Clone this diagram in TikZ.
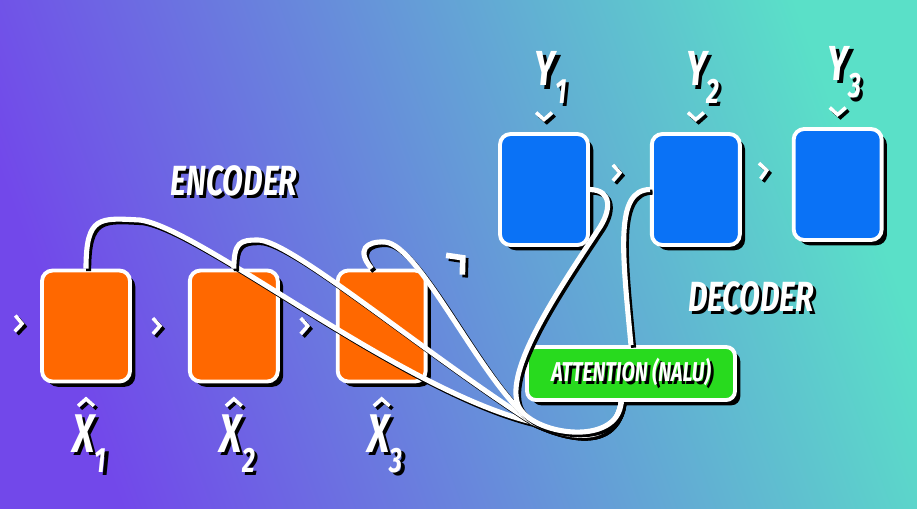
\documentclass[tikz,border=0pt]{standalone}
\usepackage{fontspec}
\newfontfamily\labelfont{Fira Sans}[FakeStretch=0.72]
\usetikzlibrary{positioning, shadows, decorations.markings, calc}

\definecolor{bgleft}{RGB}{114,72,234}
\definecolor{bgmid}{RGB}{84,136,214}
\definecolor{bgright}{RGB}{90,224,200}
\definecolor{encorange}{RGB}{255,104,0}
\definecolor{decblue}{RGB}{10,114,246}
\definecolor{attgreen}{RGB}{40,218,30}

% white text with a black drop shadow
\newcommand\shtext[1]{\leavevmode\rlap{\kern1.8pt\raisebox{-1.8pt}{\color{black}#1}}#1}
\newcommand\idx[1]{\raisebox{-0.36em}{\fontsize{20}{20}\selectfont#1}}
% arrow head with no shaft, shadow kept down-right
\newcommand\chevron[1]{%
  \pgfgettransformentries{\ca}{\cb}{\cc}{\cd}{\ce}{\cf}%
  \pgfmathsetmacro\chx{1.6*((\ca)-(\cb))}%
  \pgfmathsetmacro\chy{1.6*((\cc)-(\cd))}%
  \draw[black, line width=#1*2pt, shift={(\chx pt,\chy pt)}, scale=#1]
    (-4pt,4.5pt) -- (0,0) -- (-4pt,-4.5pt);
  \draw[white, line width=#1*2pt, scale=#1] (-4pt,4.5pt) -- (0,0) -- (-4pt,-4.5pt);}

\begin{document}
\begin{tikzpicture}[
    x=0.02cm, y=-0.02cm,
    node distance=1.12cm,
    % Boxes
    cell/.style={
        rectangle,
        draw=white,
        line width=2.2pt,
        rounded corners=6pt,
        minimum width=1.76cm,
        minimum height=2.22cm,
        drop shadow={shadow xshift=3pt, shadow yshift=-3pt, fill=black, opacity=1}
    },
    enc/.style={cell, fill=encorange},
    dec/.style={cell, fill=decblue},
    attbox/.style={
        cell,
        fill=attgreen,
        rounded corners=5pt,
        minimum width=4.16cm,
        minimum height=1.06cm,
        text=white,
        font=\labelfont\bfseries\itshape\fontsize{15.5}{15.5}\selectfont
    },
    title/.style={text=white, inner sep=0, font=\labelfont\bfseries\itshape\fontsize{24}{24}\selectfont},
    xlab/.style={text=white, inner sep=0, font=\labelfont\bfseries\itshape\fontsize{31}{31}\selectfont},
    ylab/.style={xlab, font=\labelfont\bfseries\itshape\fontsize{28}{28}\selectfont},
    % Links
    wire/.style={
        draw=white,
        line width=2.9pt,
        preaction={draw=black, line width=2.9pt, transform canvas={xshift=1.5pt, yshift=-1.5pt}}
    },
    flow/.style={
        postaction={decorate},
        decoration={markings, mark=at position 0.5 with {\chevron{#1}}}
    },
    flow/.default=1
]

    % --- BACKGROUND ---
    \useasboundingbox (0,0) rectangle (917,508);
    \shade[left color=bgleft, middle color=bgmid, right color=bgright, shading angle=110] (0,0) rectangle (917,508);

    % --- ENCODER ---
    \node[enc] (e1) at (86,326) {};
    \node[enc, right=of e1] (e2) {};
    \node[enc, right=of e2] (e3) {};
    \node[title] (enctitle) at (234,182) {\shtext{ENCODER}};

    \node[xlab, below=0.62cm of e1, xshift=2pt] (x1) {\shtext{X\idx{1}}};
    \node[xlab, below=0.62cm of e2, xshift=2pt] (x2) {\shtext{X\idx{2}}};
    \node[xlab, below=0.62cm of e3, xshift=2pt] (x3) {\shtext{X\idx{3}}};

    % --- DECODER ---
    \node[dec] (d1) at (544,189.5) {};
    \node[dec, right=1.2cm of d1] (d2) {};
    \node[dec, right=1cm of d2, yshift=0.1cm] (d3) {};
    \node[title] (dectitle) at (751,298) {\shtext{DECODER}};

    \node[ylab, above=0.5cm of d1, xshift=4pt] (y1) {\shtext{Y\idx{1}}};
    \node[ylab, above=0.5cm of d2, xshift=4pt] (y2) {\shtext{Y\idx{2}}};
    \node[ylab, above=0.5cm of d3, xshift=4pt] (y3) {\shtext{Y\idx{3}}};

    % --- ATTENTION ---
    \node[attbox] (attn) at (631,373.5) {\shtext{ATTENTION (NALU)}};
    \coordinate (in0) at (4,323);
    \coordinate (hub) at (532,422);

    % --- ARROW HEADS ---
    \path[flow] (in0) -- (e1);
    \path[flow] (e1) -- (e2);
    \path[flow] (e2) -- (e3);
    \path[flow=1.6] (e3) -- (d1);
    \path[flow] (d1.20) -- (d2.160);
    \path[flow] (d2.20) -- (d3.160);
    \foreach \i in {1,2,3} {
        \path[flow] (x\i.north -| e\i.south) -- (e\i.south);
        \path[flow] (y\i.south -| d\i.north) -- (d\i.north);
    }

    % --- ATTENTION LINKS ---
    \draw[wire] (e1.north) .. controls (86,215) and (100,218) .. (140,220)
        .. controls (200,228) and (400,390) .. (hub)
        .. controls (580,444) and (615,440) .. (attn.251);
    \draw[wire] (e2.north) .. controls (234,242) and (240,240) .. (258,240)
        .. controls (290,240) and (420,350) .. (hub)
        .. controls (580,444) and (615,440) .. (attn.251);
    \draw[wire] (e3.100) .. controls (356,250) and (366,241) .. (385,242)
        .. controls (420,245) and (480,380) .. (hub)
        .. controls (580,444) and (615,440) .. (attn.251);
    \draw[wire] (d1.east) .. controls (612,190) and (612,210) .. (598,230)
        .. controls (555,295) and (505,370) .. (518,405)
        .. controls (530,435) and (618,448) .. (attn.251);
    \draw[wire] (attn.north) .. controls (622,250) and (615,190) .. (d2.west);

\end{tikzpicture}
\end{document}
